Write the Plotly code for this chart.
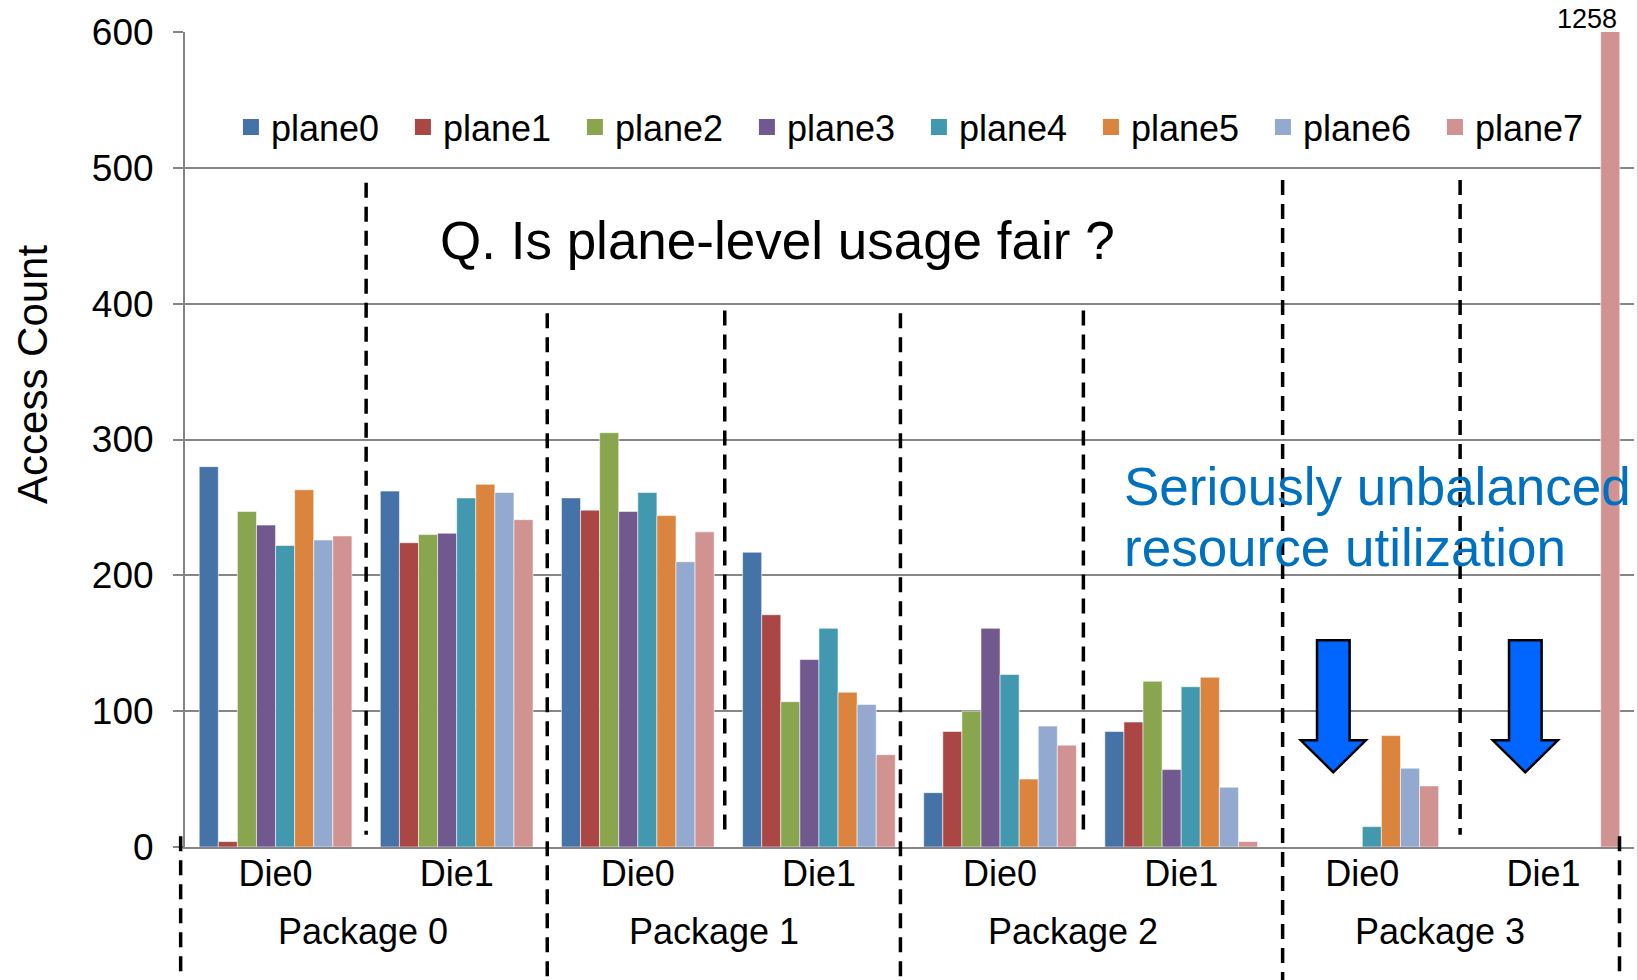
import plotly.graph_objects as go

# Categories: two dies per package
packages = ["Package 0", "Package 1", "Package 2", "Package 3"]
dies = ["Die0", "Die1"]
categories = [f"{p}-{d}" for p in packages for d in dies]
die_labels = [d for p in packages for d in dies]

planes = ["plane0", "plane1", "plane2", "plane3", "plane4", "plane5", "plane6", "plane7"]

# Access count per plane, one value per (package, die)
plane0 = [280, 262, 257, 217, 40, 85, 0, 0]
plane1 = [4, 224, 248, 171, 85, 92, 0, 0]
plane2 = [247, 230, 305, 107, 100, 122, 0, 0]
plane3 = [237, 231, 247, 138, 161, 57, 0, 0]
plane4 = [222, 257, 261, 161, 127, 118, 15, 0]
plane5 = [263, 267, 244, 114, 50, 125, 82, 0]
plane6 = [226, 261, 210, 105, 89, 44, 58, 0]
plane7 = [229, 241, 232, 68, 75, 4, 45, 1258]
series = [plane0, plane1, plane2, plane3, plane4, plane5, plane6, plane7]

colors = ["#4572A7", "#AA4643", "#89A54E", "#71588F",
          "#4198AF", "#DB843D", "#93A9CF", "#D19392"]

Y_MAX = 600
FONT = "Liberation Sans, Arial, sans-serif"

fig = go.Figure()
for name, vals, col in zip(planes, series, colors):
    fig.add_trace(go.Bar(
        name=name, x=categories, y=vals, legendgroup=name, showlegend=False,
        marker=dict(color=col, line=dict(color="rgba(255,255,255,0.55)", width=1)),
    ))
# Legend entries with larger square swatches
for name, col in zip(planes, colors):
    fig.add_trace(go.Scatter(
        name=name, x=[None], y=[None], mode="markers", legendgroup=name,
        marker=dict(symbol="square", size=17, color=col), hoverinfo="skip",
    ))

# Dashed separators: (x in category units, top value, bottom value or None = page bottom)
dividers = [
    (0.5, 489, 9), (1.5, 393, None), (2.48, 395, 9), (3.45, 393, None),
    (4.46, 395, 9), (5.56, 491, None), (6.54, 491, 9),
    (7.42, 8, None),
]
PAGE_BOTTOM = -133 / 815
DASH = dict(color="black", width=3.5, dash="15px,9px")
shapes = []
for x, top, bot in dividers:
    shapes.append(dict(
        type="line", xref="x", yref="paper", x0=x, x1=x,
        y0=top / Y_MAX, y1=(bot / Y_MAX) if bot is not None else PAGE_BOTTOM,
        line=DASH,
    ))
# Left edge separator sits just outside the category range
shapes.append(dict(type="line", xref="paper", yref="paper", x0=-0.003, x1=-0.003,
                   y0=8 / Y_MAX, y1=PAGE_BOTTOM, line=DASH))

# Down arrows (pixel geometry, anchored at the tip)
arrow_path = "M0,0 L-32.5,32 L-16.3,32 L-16.3,132 L16.3,132 L16.3,32 L32.5,32 Z"
for xa in (5.84, 6.90):
    shapes.append(dict(
        type="path", xref="x", yref="y", xsizemode="pixel", ysizemode="pixel",
        xanchor=xa, yanchor=55, path=arrow_path,
        fillcolor="#0066FF", line=dict(color="black", width=2.5),
    ))

annotations = [
    dict(text="Access Count", xref="paper", yref="paper", x=-0.1049, y=0.5804,
         textangle=-90, xanchor="center", yanchor="middle", showarrow=False,
         font=dict(size=42, color="black", family=FONT)),
    dict(text="Q. Is plane-level usage fair ?", xref="paper", yref="paper",
         x=0.409, y=0.7445, xanchor="center", yanchor="middle", showarrow=False,
         font=dict(size=53, color="black", family=FONT)),
    dict(text="Seriously unbalanced", xref="paper", yref="paper", x=0.6467, y=0.4423,
         xanchor="left", yanchor="middle", showarrow=False,
         font=dict(size=53, color="#0070C0", family=FONT)),
    dict(text="resource utilization", xref="paper", yref="paper", x=0.6467, y=0.3669,
         xanchor="left", yanchor="middle", showarrow=False,
         font=dict(size=53, color="#0070C0", family=FONT)),
    dict(text=str(plane7[-1]), xref="x", yref="y", x=7, y=Y_MAX, xanchor="right",
         yanchor="bottom", xshift=76, yshift=-4, showarrow=False,
         font=dict(size=27, color="black", family=FONT)),
]
package_label_x = [0.48, 2.42, 4.40, 6.43]
for px, p in zip(package_label_x, packages):
    annotations.append(dict(text=p, xref="x", yref="paper", x=px, y=-0.104,
                            xanchor="center", yanchor="middle", showarrow=False,
                            font=dict(size=36, color="black", family=FONT)))

fig.update_layout(
    width=1637, height=980,
    margin=dict(l=185, r=3, t=32, b=133),
    paper_bgcolor="white", plot_bgcolor="white",
    barmode="group", bargap=0.157, bargroupgap=0,
    font=dict(family=FONT, color="black", size=36),
    showlegend=True,
    legend=dict(orientation="h", x=0.0317, y=0.92, xanchor="left", yanchor="top",
                font=dict(size=36), entrywidth=127, bgcolor="rgba(0,0,0,0)",
                traceorder="normal"),
    shapes=shapes, annotations=annotations,
)
fig.update_xaxes(
    tickvals=categories, ticktext=die_labels, showgrid=False,
    showline=True, linecolor="#868686", linewidth=2, ticks="",
    tickfont=dict(size=36), ticklabelstandoff=-6, range=[-0.5, 7.5],
)
fig.update_yaxes(
    range=[0, Y_MAX], dtick=100, showgrid=True, gridcolor="#868686", gridwidth=1.8,
    showline=True, linecolor="#868686", linewidth=2, ticks="outside", ticklen=10,
    tickcolor="#868686", tickwidth=2, tickfont=dict(size=37), ticklabelstandoff=12,
    zeroline=False,
)

fig.write_html("out.html")
